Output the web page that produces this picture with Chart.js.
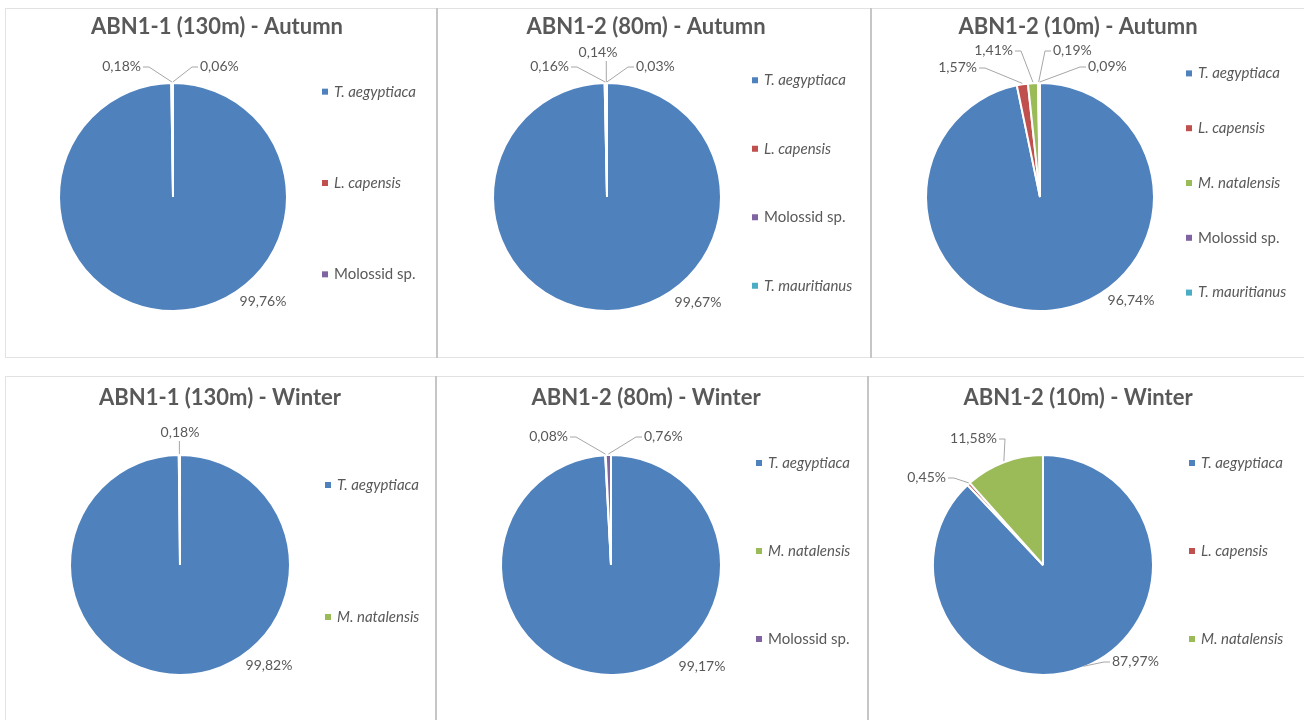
<!DOCTYPE html>
<html>
<head>
<meta charset="utf-8">
<script src="https://cdn.jsdelivr.net/npm/chart.js@4.4.1/dist/chart.umd.min.js"></script>
<style>
  html, body { margin: 0; padding: 0; background: #fff; overflow: hidden; }
  body { width: 1304px; height: 720px; position: relative; }
  .panel { position: absolute; box-sizing: border-box; border: 1px solid #e2e2e2; background: #fff; }
  .panel .box { position: absolute; left: 0; top: 0; right: 0; bottom: 0; }
  .divider { position: absolute; width: 2px; background: #c6c6c6; }
</style>
</head>
<body>
<div class="panel" style="left:5px;top:8px;width:432px;height:350px"><div class="box"><canvas id="abn11Autumn"></canvas></div></div>
<div class="panel" style="left:437px;top:8px;width:434px;height:350px"><div class="box"><canvas id="abn12m80Autumn"></canvas></div></div>
<div class="panel" style="left:871px;top:8px;width:440px;height:350px"><div class="box"><canvas id="abn12m10Autumn"></canvas></div></div>
<div class="panel" style="left:5px;top:376px;width:431px;height:350px"><div class="box"><canvas id="abn11Winter"></canvas></div></div>
<div class="panel" style="left:436px;top:376px;width:432px;height:350px"><div class="box"><canvas id="abn12m80Winter"></canvas></div></div>
<div class="panel" style="left:868px;top:376px;width:440px;height:350px"><div class="box"><canvas id="abn12m10Winter"></canvas></div></div>
<div class="divider" style="left:436px;top:8px;height:350px"></div>
<div class="divider" style="left:870px;top:8px;height:350px"></div>
<div class="divider" style="left:435px;top:376px;height:344px"></div>
<div class="divider" style="left:867px;top:376px;height:344px"></div>

<script>
// species shares (%) per site / season
const abn11AutumnSpecies = ["T. aegyptiaca", "L. capensis", "Molossid sp."];
const abn11AutumnShare = [99.76, 0.18, 0.06];

const abn12m80AutumnSpecies = ["T. aegyptiaca", "L. capensis", "Molossid sp.", "T. mauritianus"];
const abn12m80AutumnShare = [99.67, 0.16, 0.14, 0.03];

const abn12m10AutumnSpecies = ["T. aegyptiaca", "L. capensis", "M. natalensis", "Molossid sp.", "T. mauritianus"];
const abn12m10AutumnShare = [96.74, 1.57, 1.41, 0.19, 0.09];

const abn11WinterSpecies = ["T. aegyptiaca", "M. natalensis"];
const abn11WinterShare = [99.82, 0.18];

const abn12m80WinterSpecies = ["T. aegyptiaca", "M. natalensis", "Molossid sp."];
const abn12m80WinterShare = [99.17, 0.08, 0.76];

const abn12m10WinterSpecies = ["T. aegyptiaca", "L. capensis", "M. natalensis"];
const abn12m10WinterShare = [87.97, 0.45, 11.58];

const speciesColors = {
  "T. aegyptiaca": "#4f81bd",
  "L. capensis": "#c0504d",
  "M. natalensis": "#9bbb59",
  "Molossid sp.": "#8064a2",
  "T. mauritianus": "#4bacc6"
};

const textColor = "#595959";
const leaderColor = "#a6a6a6";

// data label placement: offset from pie centre, text alignment, leader style
const abn11AutumnLabelPos = [[90, 104, "center", ""], [-32, -131, "right", "h"], [27, -131, "left", "h"]];
const abn12m80AutumnLabelPos = [[91, 105, "center", ""], [-38, -131, "right", "h"], [-9, -145, "center", "v"], [29, -131, "left", "h"]];
const abn12m10AutumnLabelPos = [[91, 103, "center", ""], [-63, -130, "right", "h"], [-27, -147, "right", "h"], [13, -147, "left", "h"], [48, -131, "left", "h"]];
const abn11WinterLabelPos = [[89, 100, "center", ""], [0, -133, "center", "v"]];
const abn12m80WinterLabelPos = [[91, 101, "center", ""], [-43, -129, "right", "h"], [33, -129, "left", "h"]];
const abn12m10WinterLabelPos = [[69, 96, "left", "h"], [-97, -88, "right", "h"], [-46, -127, "right", "h"]];

function fmtPct(v) {
  return v.toFixed(2).replace(".", ",") + "%";
}

const excelPieLook = {
  id: "excelPieLook",
  afterDraw(chart, args, opts) {
    const ctx = chart.ctx;
    const meta = chart.getDatasetMeta(0);
    const labels = chart.data.labels;
    const ds = chart.data.datasets[0];

    ctx.save();

    // title
    ctx.font = "bold 22px Lato";
    ctx.fillStyle = textColor;
    ctx.textAlign = "center";
    ctx.textBaseline = "middle";
    ctx.fillText(opts.title, opts.titleX, opts.titleY);

    // legend, items spread evenly over the legend band
    const n = labels.length;
    const step = (opts.legendBottom - opts.legendTop) / n;
    ctx.textAlign = "left";
    labels.forEach((name, i) => {
      const y = opts.legendTop + step * (i + 0.5);
      ctx.fillStyle = ds.backgroundColor[i];
      ctx.fillRect(opts.legendX - 3, y - 3, 6, 6);
      ctx.fillStyle = textColor;
      ctx.font = (name.indexOf("sp.") >= 0 ? "" : "italic ") + "15px Lato";
      ctx.fillText(name, opts.legendX + 9, y);
    });

    // data labels with leader lines
    ctx.font = "14px Lato";
    ctx.strokeStyle = leaderColor;
    ctx.lineWidth = 1;
    meta.data.forEach((arc, i) => {
      const p = arc.getProps(["x", "y", "startAngle", "endAngle", "outerRadius"], true);
      const [dx, dy, align, leader] = opts.labelPos[i];
      const lx = p.x + dx;
      const ly = p.y + dy;
      const mid = (p.startAngle + p.endAngle) / 2;
      const ax = p.x + Math.cos(mid) * p.outerRadius;
      const ay = p.y + Math.sin(mid) * p.outerRadius;

      if (leader === "h") {
        const dir = align === "right" ? 1 : -1;
        ctx.beginPath();
        ctx.moveTo(lx + dir * 2, ly + 1);
        ctx.lineTo(lx + dir * 8, ly + 1);
        ctx.lineTo(ax, ay - 1);
        ctx.stroke();
      } else if (leader === "v") {
        ctx.beginPath();
        ctx.moveTo(ax, ly + 9);
        ctx.lineTo(ax, ay - 1);
        ctx.stroke();
      }

      ctx.fillStyle = textColor;
      ctx.textAlign = align;
      ctx.fillText(fmtPct(ds.data[i]), lx, ly);
    });

    ctx.restore();
  }
};

function makePie(canvasId, species, share, labelPos, look) {
  const canvas = document.getElementById(canvasId);
  const box = canvas.parentNode;
  const W = box.clientWidth;
  const H = box.clientHeight;

  // place the chart area so its centre falls on the pie centre
  const padX = 2 * look.cx - W;
  const padY = 2 * look.cy - H;

  return new Chart(canvas, {
    type: "pie",
    data: {
      labels: species,
      datasets: [{
        data: share,
        backgroundColor: species.map(s => speciesColors[s]),
        borderColor: "#ffffff",
        borderWidth: 2,
        radius: look.r
      }]
    },
    options: {
      responsive: true,
      maintainAspectRatio: false,
      animation: false,
      events: [],
      layout: {
        padding: {
          left: padX > 0 ? padX : 0,
          right: padX < 0 ? -padX : 0,
          top: padY > 0 ? padY : 0,
          bottom: padY < 0 ? -padY : 0
        }
      },
      plugins: {
        legend: { display: false },
        tooltip: { enabled: false },
        title: { display: false },
        excelPieLook: Object.assign({ labelPos: labelPos }, look)
      }
    },
    plugins: [excelPieLook]
  });
}

makePie("abn11Autumn", abn11AutumnSpecies, abn11AutumnShare, abn11AutumnLabelPos,
  { title: "ABN1-1 (130m) - Autumn", cx: 167, cy: 188, r: 114, titleX: 211, titleY: 18, legendX: 319, legendTop: 37, legendBottom: 311 });
makePie("abn12m80Autumn", abn12m80AutumnSpecies, abn12m80AutumnShare, abn12m80AutumnLabelPos,
  { title: "ABN1-2 (80m) - Autumn", cx: 169, cy: 188, r: 114, titleX: 208, titleY: 18, legendX: 317, legendTop: 37, legendBottom: 311 });
makePie("abn12m10Autumn", abn12m10AutumnSpecies, abn12m10AutumnShare, abn12m10AutumnLabelPos,
  { title: "ABN1-2 (10m) - Autumn", cx: 168, cy: 188, r: 114, titleX: 206, titleY: 18, legendX: 317, legendTop: 37, legendBottom: 311 });
makePie("abn11Winter", abn11WinterSpecies, abn11WinterShare, abn11WinterLabelPos,
  { title: "ABN1-1 (130m) - Winter", cx: 174, cy: 188, r: 110, titleX: 214, titleY: 21, legendX: 322, legendTop: 42, legendBottom: 306 });
makePie("abn12m80Winter", abn12m80WinterSpecies, abn12m80WinterShare, abn12m80WinterLabelPos,
  { title: "ABN1-2 (80m) - Winter", cx: 174, cy: 188, r: 110, titleX: 209, titleY: 21, legendX: 322, legendTop: 42, legendBottom: 306 });
makePie("abn12m10Winter", abn12m10WinterSpecies, abn12m10WinterShare, abn12m10WinterLabelPos,
  { title: "ABN1-2 (10m) - Winter", cx: 174, cy: 188, r: 110, titleX: 209, titleY: 21, legendX: 323, legendTop: 42, legendBottom: 306 });
</script>
</body>
</html>
